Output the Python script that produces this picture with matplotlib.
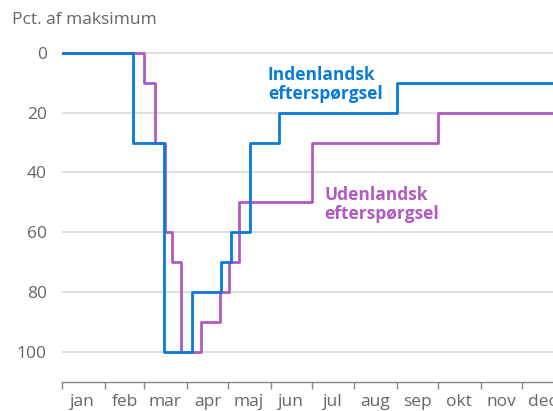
import matplotlib
matplotlib.use("Agg")
import matplotlib.pyplot as plt
import matplotlib.dates as mdates
import pandas as pd

# ---- Data (pct. af maksimum, trin-ændringer 2020) ----
inden_dates = ["2020-01-01", "2020-02-22", "2020-03-15", "2020-04-05", "2020-04-26",
               "2020-05-03", "2020-05-17", "2020-06-07", "2020-09-01", "2020-12-31"]
inden_vals = [0, 30, 100, 80, 70, 60, 30, 20, 10, 10]

uden_dates = ["2020-01-01", "2020-03-01", "2020-03-09", "2020-03-16", "2020-03-21",
              "2020-03-28", "2020-04-11", "2020-04-25", "2020-05-02", "2020-05-09",
              "2020-07-01", "2020-10-01", "2020-12-31"]
uden_vals = [0, 10, 30, 60, 70, 100, 90, 80, 70, 50, 30, 20, 20]

month_labels = ["jan", "feb", "mar", "apr", "maj", "jun", "jul", "aug", "sep", "okt", "nov", "dec"]
y_ticks = [0, 20, 40, 60, 80, 100]

BLUE = "#0a7bd6"
PURPLE = "#b05bbf"
GREY_TXT = "#666666"

plt.rcParams['font.family'] = ['Open Sans', 'DejaVu Sans']

fig = plt.figure(figsize=(5.53, 4.11), dpi=100)
ax = fig.add_axes([62 / 553, 0.0713, 501 / 553, 0.8217])

ax.plot(pd.to_datetime(uden_dates), uden_vals, color=PURPLE, lw=2.0, drawstyle="steps-post", zorder=3)
ax.plot(pd.to_datetime(inden_dates), inden_vals, color=BLUE, lw=2.0, drawstyle="steps-post", zorder=4)

ax.set_yticks(y_ticks)
ax.set_yticklabels([str(v) for v in y_ticks])
ax.tick_params(axis="y", length=0, pad=11, labelsize=12.5, labelcolor=GREY_TXT)
ax.grid(axis="y", color="#d9d9d9", lw=1.2)
ax.set_axisbelow(True)

# måneder: ticks ved månedsstart, labels midt i måneden
ax.xaxis.set_major_locator(mdates.MonthLocator())
ax.xaxis.set_major_formatter(plt.NullFormatter())
mid = pd.date_range("2020-01-01", periods=12, freq="MS") + pd.Timedelta(days=15)
ax.set_xticks(mid, minor=True)
ax.set_xticklabels(month_labels, minor=True)
ax.tick_params(axis="x", which="major", length=5, width=1, color="#888888")
ax.tick_params(axis="x", which="minor", length=0, pad=9, labelsize=12.5, labelcolor=GREY_TXT)

ax.set_ylim(110, -3)
ax.set_xlim(pd.Timestamp("2020-01-01"), pd.Timestamp("2020-12-31"))

for s in ["top", "right", "left"]:
    ax.spines[s].set_visible(False)
ax.spines["bottom"].set_color("#888888")
ax.spines["bottom"].set_linewidth(1)

fig.text(12 / 553, 1 - 20 / 411, "Pct. af maksimum", fontsize=12.5, color=GREY_TXT, va="center", ha="left")

ax.text(pd.Timestamp("2020-05-30"), 4.3, "Indenlandsk\nefterspørgsel", color=BLUE, fontsize=12.5,
        fontweight="bold", va="top", ha="left", linespacing=1.1)
ax.text(pd.Timestamp("2020-07-10"), 44.5, "Udenlandsk\nefterspørgsel", color=PURPLE, fontsize=12.5,
        fontweight="bold", va="top", ha="left", linespacing=1.1)

fig.savefig("out.png", dpi=100)
